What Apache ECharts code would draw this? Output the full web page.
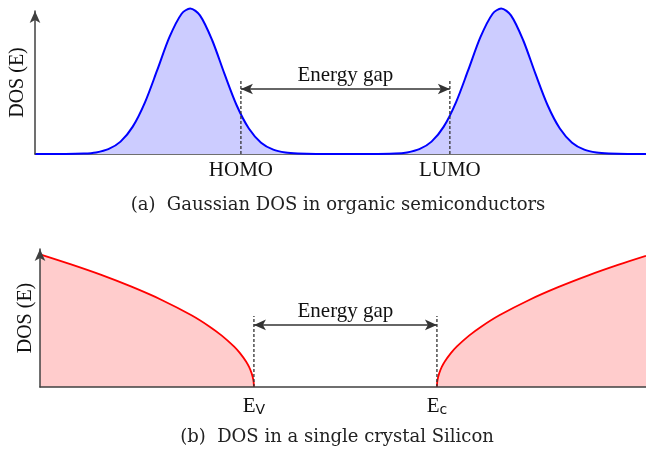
<!DOCTYPE html>
<html>
<head>
<meta charset="utf-8">
<style>
html,body{margin:0;padding:0;background:#fff;}
#chart{width:646px;height:453px;}
</style>
<script src="https://cdn.jsdelivr.net/npm/echarts@6/dist/echarts.min.js"></script>
</head>
<body>
<div id="chart"></div>
<script>
// ---- Data ----
// (a) Gaussian DOS (energy, DOS) – two Gaussian bands
const gaussianDos = [
  [0,0],[0.5,0],[0.8,0.003],[1.0,0.011],[1.2,0.033],[1.4,0.085],[1.6,0.188],[1.8,0.355],
  [2.0,0.576],[2.2,0.803],[2.4,0.964],[2.54,1.0],[2.7,0.953],[2.9,0.782],[3.1,0.552],
  [3.3,0.335],[3.5,0.175],[3.7,0.078],[3.9,0.030],[4.1,0.010],[4.3,0.003],[4.6,0],
  [5.5,0],[5.89,0.003],[6.09,0.011],[6.29,0.033],[6.49,0.085],[6.69,0.188],[6.89,0.355],
  [7.09,0.576],[7.29,0.803],[7.49,0.964],[7.63,1.0],[7.79,0.953],[7.99,0.782],[8.19,0.552],
  [8.39,0.335],[8.59,0.175],[8.79,0.078],[8.99,0.030],[9.19,0.010],[9.39,0.003],[9.7,0],[10,0]
];
const topLevelNames = ['HOMO', 'LUMO'];
const topLevelEnergies = [3.37, 6.79];
const topDashTop = 0.509;
const topGapArrowY = 0.447;

// (b) Crystalline silicon DOS – valence and conduction band edges
const valenceDos = [
  [0,0.921],[0.5,0.853],[1.0,0.780],[1.5,0.698],[2.0,0.606],[2.5,0.498],[2.8,0.419],
  [3.0,0.357],[3.2,0.282],[3.3,0.235],[3.4,0.177],[3.45,0.139],[3.49,0.098],[3.51,0.069],
  [3.525,0.035],[3.53,0]
];
const conductionDos = [
  [6.55,0],[6.555,0.035],[6.57,0.069],[6.59,0.098],[6.63,0.139],[6.68,0.177],[6.78,0.235],
  [6.88,0.282],[7.08,0.357],[7.28,0.419],[7.58,0.498],[8.08,0.606],[8.55,0.693],
  [9.05,0.775],[9.55,0.849],[10,0.910]
];
const bottomLevelNames = ['V', 'c'];
const bottomLevelEnergies = [3.53, 6.55];
const bottomDashTop = 0.493;
const bottomGapArrowY = 0.431;

const gapLabel = 'Energy gap';
const axisName = 'DOS (E)';
const captions = ['(a)  Gaussian DOS in organic semiconductors', '(b)  DOS in a single crystal Silicon'];

// ---- Chart ----
const chart = echarts.init(document.getElementById('chart'), null, {renderer: 'canvas'});
const MAIN_FONT = '"Liberation Serif", "Times New Roman", serif';
const CAP_FONT = '"DejaVu Serif", serif';
const axisColor = '#404040';

function dashedSeries(xi, yi, e, top) {
  return {
    type: 'line', xAxisIndex: xi, yAxisIndex: yi, data: [[e, 0], [e, top]],
    showSymbol: false, silent: true, z: 5, clip: false,
    lineStyle: {color: '#333', width: 1.3, type: [3, 2]}
  };
}
function gapSeries(xi, yi, a, b, y) {
  return {
    type: 'line', xAxisIndex: xi, yAxisIndex: yi, data: [], silent: true, z: 5,
    markLine: {
      silent: true, symbol: ['arrow', 'arrow'], symbolSize: [8, 12],
      lineStyle: {color: '#333', width: 1.5, type: 'solid'},
      label: {show: true, position: 'middle', formatter: gapLabel, color: '#111',
              fontFamily: MAIN_FONT, fontSize: 21, distance: 3},
      emphasis: {disabled: true},
      data: [[{coord: [a, y]}, {coord: [b, y]}]]
    }
  };
}

const yAxisCommon = {
  type: 'value', min: 0,
  axisLine: {show: true, symbol: ['none', 'arrow'], symbolSize: [8, 12],
             lineStyle: {color: axisColor, width: 1.5}},
  axisTick: {show: false}, axisLabel: {show: false}, splitLine: {show: false},
  name: axisName, nameLocation: 'middle', nameRotate: 90,
  nameTextStyle: {fontFamily: MAIN_FONT, fontSize: 20, color: '#111'},
  z: 6
};

const curveCommon = {
  type: 'line', clip: false, smooth: 0.3, showSymbol: false, silent: true, z: 3
};

const option = {
  animation: false,
  backgroundColor: '#fff',
  grid: [
    {left: 35, top: 11, width: 611, height: 143, containLabel: false, outerBoundsMode: 'none'},
    {left: 40, top: 249, width: 606, height: 138, containLabel: false, outerBoundsMode: 'none'}
  ],
  xAxis: [
    {
      gridIndex: 0, type: 'value', min: 0, max: 10,
      axisLine: {show: true, lineStyle: {color: axisColor, width: 1.5}},
      axisTick: {show: false}, splitLine: {show: false},
      axisLabel: {
        customValues: topLevelEnergies, margin: 6,
        formatter: (v) => topLevelNames[topLevelEnergies.indexOf(v)],
        fontFamily: MAIN_FONT, fontSize: 21, color: '#111'
      }
    },
    {
      gridIndex: 1, type: 'value', min: 0, max: 10, z: 6,
      axisLine: {show: true, lineStyle: {color: axisColor, width: 1.5}},
      axisTick: {show: false}, splitLine: {show: false},
      axisLabel: {
        customValues: bottomLevelEnergies, margin: 8,
        formatter: (v) => '{e|E}{s|' + bottomLevelNames[bottomLevelEnergies.indexOf(v)] + '}',
        rich: {
          e: {fontFamily: MAIN_FONT, fontSize: 21, color: '#111'},
          s: {fontFamily: '"DejaVu Sans", sans-serif', fontSize: 14, color: '#111', verticalAlign: 'bottom', padding: [8, 0, 0, 0]}
        }
      }
    }
  ],
  yAxis: [
    Object.assign({}, yAxisCommon, {gridIndex: 0, max: 0.983, nameGap: 7}),
    Object.assign({}, yAxisCommon, {gridIndex: 1, max: 0.958, nameGap: 4})
  ],
  graphic: [
    {type: 'text', x: 338, y: 205, style: {text: captions[0], font: '18px ' + CAP_FONT, fill: '#222', align: 'center', verticalAlign: 'middle'}},
    {type: 'text', x: 337, y: 437, style: {text: captions[1], font: '18px ' + CAP_FONT, fill: '#222', align: 'center', verticalAlign: 'middle'}}
  ],
  series: [
    Object.assign({}, curveCommon, {
      xAxisIndex: 0, yAxisIndex: 0, data: gaussianDos,
      lineStyle: {color: '#0000ff', width: 2},
      areaStyle: {color: '#ccccff', opacity: 1}
    }),
    dashedSeries(0, 0, topLevelEnergies[0], topDashTop),
    dashedSeries(0, 0, topLevelEnergies[1], topDashTop),
    gapSeries(0, 0, topLevelEnergies[0], topLevelEnergies[1], topGapArrowY),
    Object.assign({}, curveCommon, {
      xAxisIndex: 1, yAxisIndex: 1, data: valenceDos,
      lineStyle: {color: '#ff0000', width: 1.8},
      areaStyle: {color: '#ffcccc', opacity: 1}
    }),
    Object.assign({}, curveCommon, {
      xAxisIndex: 1, yAxisIndex: 1, data: conductionDos,
      lineStyle: {color: '#ff0000', width: 1.8},
      areaStyle: {color: '#ffcccc', opacity: 1}
    }),
    dashedSeries(1, 1, bottomLevelEnergies[0], bottomDashTop),
    dashedSeries(1, 1, bottomLevelEnergies[1], bottomDashTop),
    gapSeries(1, 1, bottomLevelEnergies[0], bottomLevelEnergies[1], bottomGapArrowY)
  ]
};
chart.setOption(option);
</script>
</body>
</html>
